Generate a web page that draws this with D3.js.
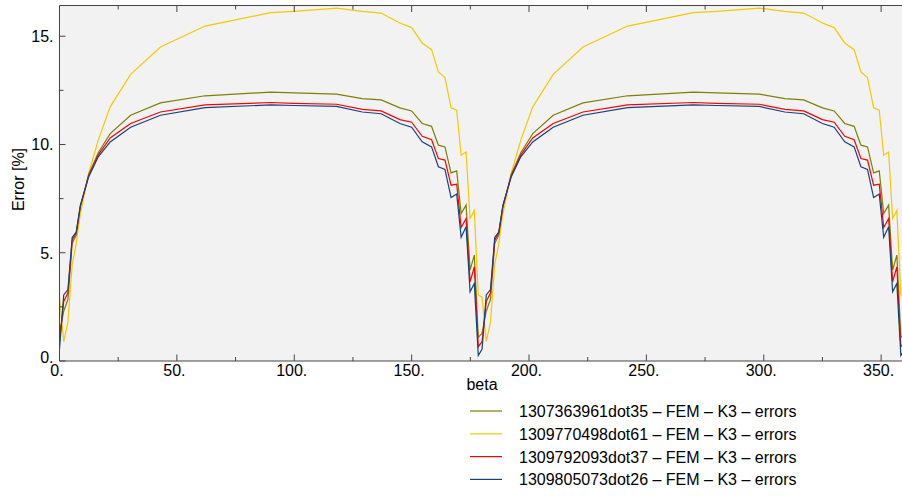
<!DOCTYPE html>
<html>
<head>
<meta charset="utf-8">
<script src="https://cdn.jsdelivr.net/npm/d3@7"></script>
<style>
  html, body { margin: 0; padding: 0; background: #ffffff; }
  svg { display: block; font-family: "Liberation Sans", Arial, sans-serif; }
</style>
</head>
<body>
<svg id="chart" width="902" height="496"></svg>
<script>
// beta angles (degrees) at which the errors were evaluated
const beta = [
  0, 1.8, 3.6, 5.4, 7.1, 8.9, 12.4, 16.5, 21.6, 30.3, 43, 62, 90, 100, 118, 129, 137, 145, 150,
  154.5, 158.5, 161.4, 164.2, 166.8, 169.2, 171.1, 173.2, 174.9, 176.7, 178.4, 180,
  181.8, 183.6, 185.4, 187.1, 188.9, 192.4, 196.5, 201.6, 210.3, 223, 242, 270, 280, 298, 309, 317, 325, 330,
  334.5, 338.5, 341.4, 344.2, 346.8, 349.2, 351.1, 353.2, 354.9, 356.7, 358.4, 360
];

// error [%] per run
const run1307363961 = [
  1.28, 2.3, 2.85, 5.43, 5.8, 7.12, 8.6, 9.62, 10.5, 11.35, 11.92, 12.25, 12.42, 12.38, 12.33, 12.12, 12.06, 11.69, 11.55,
  10.97, 10.84, 9.97, 9.89, 8.69, 8.78, 6.81, 7.2, 4.2, 4.89, 1.09, 1.28,
  2.3, 2.85, 5.43, 5.8, 7.12, 8.6, 9.62, 10.5, 11.35, 11.92, 12.25, 12.42, 12.38, 12.33, 12.12, 12.06, 11.69, 11.55,
  10.97, 10.84, 9.97, 9.89, 8.69, 8.78, 6.81, 7.2, 4.2, 4.89, 1.09, 1.28
];
const run1309770498 = [
  2.95, 0.9, 1.8, 4.45, 5.4, 6.8, 8.66, 10.2, 11.74, 13.24, 14.5, 15.47, 16.09, 16.15, 16.3, 16.15, 16.07, 15.61, 15.4,
  14.69, 14.38, 13.35, 13.09, 11.69, 11.58, 9.5, 9.65, 6.58, 6.95, 3.05, 2.95,
  0.9, 1.8, 4.45, 5.4, 6.8, 8.66, 10.2, 11.74, 13.24, 14.5, 15.47, 16.09, 16.15, 16.3, 16.15, 16.07, 15.61, 15.4,
  14.69, 14.38, 13.35, 13.09, 11.69, 11.58, 9.5, 9.65, 6.58, 6.95, 3.05, 2.95
];
const run1309792093 = [
  0.89, 2.75, 3.15, 5.58, 5.9, 7.15, 8.55, 9.52, 10.3, 10.97, 11.5, 11.83, 11.94, 11.9, 11.86, 11.62, 11.55, 11.15, 11.03,
  10.38, 10.22, 9.35, 9.28, 8.12, 8.17, 6.17, 6.58, 3.66, 4.35, 0.66, 0.89,
  2.75, 3.15, 5.58, 5.9, 7.15, 8.55, 9.52, 10.3, 10.97, 11.5, 11.83, 11.94, 11.9, 11.86, 11.62, 11.55, 11.15, 11.03,
  10.38, 10.22, 9.35, 9.28, 8.12, 8.17, 6.17, 6.58, 3.66, 4.35, 0.66, 0.89
];
const run1309805073 = [
  0.54, 3.05, 3.3, 5.7, 5.95, 7.2, 8.5, 9.43, 10.12, 10.8, 11.35, 11.7, 11.83, 11.8, 11.76, 11.5, 11.42, 10.97, 10.8,
  10.12, 9.89, 8.97, 8.85, 7.55, 7.71, 5.71, 6.2, 3.2, 3.58, 0.25, 0.54,
  3.05, 3.3, 5.7, 5.95, 7.2, 8.5, 9.43, 10.12, 10.8, 11.35, 11.7, 11.83, 11.8, 11.76, 11.5, 11.42, 10.97, 10.8,
  10.12, 9.89, 8.97, 8.85, 7.55, 7.71, 5.71, 6.2, 3.2, 3.58, 0.25, 0.54
];

const seriesNames = [
  "1307363961dot35 \u2013 FEM \u2013 K3 \u2013 errors",
  "1309770498dot61 \u2013 FEM \u2013 K3 \u2013 errors",
  "1309792093dot37 \u2013 FEM \u2013 K3 \u2013 errors",
  "1309805073dot26 \u2013 FEM \u2013 K3 \u2013 errors"
];
const seriesColors = ["#7f7f00", "#f5c800", "#ff0000", "#15427e"];

const xMajor = [0, 50, 100, 150, 200, 250, 300, 350];
const xMinor = [25, 75, 125, 175, 225, 275, 325];
const yMajor = [0, 5, 10, 15];
const yMinor = [2.5, 7.5, 12.5];
const xTitle = "beta";
const yTitle = "Error [%]";

const seriesValues = [run1307363961, run1309770498, run1309792093, run1309805073];
// draw order: the darker runs sit on top
const drawOrder = [1, 0, 2, 3];

const svg = d3.select("#chart");
const plot = { left: 59.5, top: 5.5, right: 904.6, bottom: 361 };

const x = d3.scaleLinear().domain([0, 360]).range([plot.left, plot.right]);
const y = d3.scaleLinear().domain([0, 16.42]).range([plot.bottom, plot.top]);

svg.append("rect")
  .attr("x", plot.left).attr("y", plot.top)
  .attr("width", plot.right - plot.left).attr("height", plot.bottom - plot.top)
  .attr("fill", "#f2f2f2");

svg.append("defs").append("clipPath").attr("id", "plotclip")
  .append("rect")
  .attr("x", plot.left).attr("y", plot.top - 2)
  .attr("width", plot.right - plot.left).attr("height", plot.bottom - plot.top + 2);

const line = d3.line().x(d => x(d[0])).y(d => y(d[1]));
const lines = svg.append("g").attr("clip-path", "url(#plotclip)");
drawOrder.forEach(i => {
  lines.append("path")
    .datum(beta.map((b, k) => [b, seriesValues[i][k]]))
    .attr("d", line)
    .attr("fill", "none")
    .attr("stroke", seriesColors[i])
    .attr("stroke-width", 1.2)
    .attr("stroke-linejoin", "miter");
});

const axisColor = "#444";
const frame = svg.append("g").attr("stroke", axisColor).attr("stroke-width", 1).attr("fill", "none");
frame.append("path").attr("d", `M${plot.left},${plot.top}H${plot.right}`);
frame.append("path").attr("d", `M${plot.left},${plot.top}V${plot.bottom}`);
frame.append("path").attr("d", `M${plot.left},${plot.bottom}H${plot.right}`);

// inward ticks
function xTicks(vals, len) {
  vals.forEach(v => {
    frame.append("path").attr("d", `M${x(v)},${plot.bottom}v${-len}`);
    frame.append("path").attr("d", `M${x(v)},${plot.top}v${len}`);
  });
}
function yTicks(vals, len) {
  vals.forEach(v => {
    frame.append("path").attr("d", `M${plot.left},${y(v)}h${len}`);
  });
}
xTicks(xMajor, 6.5);
xTicks(xMinor, 4);
yTicks(yMajor, 6);
yTicks(yMinor, 4);

const labels = svg.append("g").attr("font-size", 16).attr("fill", "#000");
xMajor.forEach(v => {
  labels.append("text")
    .attr("x", x(v) - 2.5).attr("y", 376)
    .attr("text-anchor", "middle")
    .text(v + ".");
});
yMajor.forEach(v => {
  labels.append("text")
    .attr("x", 53.5).attr("y", y(v) + 5.8 - (v === 0 ? 4 : 0))
    .attr("text-anchor", "end")
    .text(v + ".");
});

labels.append("text")
  .attr("x", (plot.left + plot.right) / 2).attr("y", 389.5)
  .attr("text-anchor", "middle")
  .text(xTitle);

labels.append("text")
  .attr("transform", "translate(23.5,179.5) rotate(-90)")
  .attr("text-anchor", "middle")
  .text(yTitle);

// legend
const legend = svg.append("g").attr("font-size", 16);
seriesNames.forEach((name, i) => {
  const ly = 411 + i * 22.8;
  legend.append("line")
    .attr("x1", 470).attr("x2", 502).attr("y1", ly).attr("y2", ly)
    .attr("stroke", seriesColors[i]).attr("stroke-width", 1.2);
  legend.append("text")
    .attr("x", 519).attr("y", ly + 6)
    .attr("fill", "#000")
    .text(name);
});
</script>
</body>
</html>
